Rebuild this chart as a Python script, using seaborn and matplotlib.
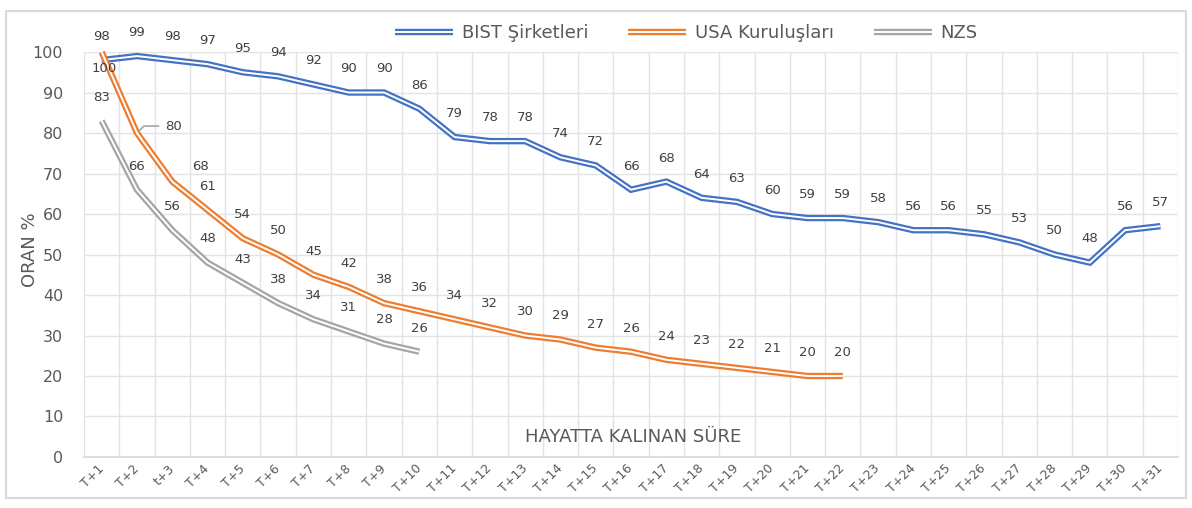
import numpy as np
import pandas as pd
import matplotlib
matplotlib.use("Agg")
import matplotlib.pyplot as plt
import matplotlib.patheffects as pe
from matplotlib.lines import Line2D
from matplotlib.patches import Rectangle
import seaborn as sns

# ---------------- data ----------------
categories = ["T+1", "T+2", "t+3", "T+4", "T+5", "T+6", "T+7", "T+8", "T+9", "T+10",
              "T+11", "T+12", "T+13", "T+14", "T+15", "T+16", "T+17", "T+18", "T+19", "T+20",
              "T+21", "T+22", "T+23", "T+24", "T+25", "T+26", "T+27", "T+28", "T+29", "T+30", "T+31"]
bist = [98, 99, 98, 97, 95, 94, 92, 90, 90, 86, 79, 78, 78, 74, 72, 66, 68, 64, 63, 60,
        59, 59, 58, 56, 56, 55, 53, 50, 48, 56, 57]
usa = [100, 80, 68, 61, 54, 50, 45, 42, 38, 36, 34, 32, 30, 29, 27, 26, 24, 23, 22, 21, 20, 20]
nzs = [83, 66, 56, 48, 43, 38, 34, 31, 28, 26]
series_names = ["BIST Şirketleri", "USA Kuruluşları", "NZS"]
series_colors = ["#4472C4", "#ED7D31", "#A5A5A5"]

# ---------------- style ----------------
sns.set_theme(style="white")
plt.rcParams["font.family"] = ["DejaVu Sans"]

fig = plt.figure(figsize=(11.92, 5.08), dpi=100)
ax = fig.add_axes([0.0705, 0.1004, 0.9178, 0.7972])

def double_line(color):
    return [pe.Stroke(linewidth=4.6, foreground=color, capstyle="butt"), pe.Normal()]

all_series = [bist, usa, nzs]
for vals, name, col in zip(all_series, series_names, series_colors):
    df = pd.DataFrame({"x": np.arange(len(vals)), "y": vals})
    sns.lineplot(data=df, x="x", y="y", ax=ax, color="white", linewidth=1.4,
                 path_effects=double_line(col), clip_on=False, legend=False,
                 solid_joinstyle="miter", solid_capstyle="butt")

# ---------------- data labels ----------------
label_color = "#404040"
default_off = (0, 17)
special = {
    ("USA Kuruluşları", 0): (2, -12),
    ("USA Kuruluşları", 2): (20, 11),
}
for vals, name in zip(all_series, series_names):
    for i, v in enumerate(vals):
        if (name, i) == ("USA Kuruluşları", 1):
            ax.annotate(str(v), xy=(i, v), xytext=(26, 5), textcoords="offset points",
                        ha="center", va="center", fontsize=9.5, color=label_color,
                        arrowprops=dict(arrowstyle="-", color="#A6A6A6", lw=1.2,
                                        shrinkA=2, shrinkB=2,
                                        connectionstyle="angle,angleA=0,angleB=45,rad=0"),
                        annotation_clip=False)
            continue
        off = special.get((name, i), default_off)
        ax.annotate(str(v), xy=(i, v), xytext=off, textcoords="offset points",
                    ha="center", va="center", fontsize=9.5, color=label_color,
                    annotation_clip=False)

# ---------------- axes ----------------
ax.set_xlim(-0.5, len(categories) - 0.5)
ax.set_ylim(0, 100)
ax.set_yticks(range(0, 101, 10))
ax.set_xticks(np.arange(len(categories)))
ax.set_xticklabels(categories, rotation=45, ha="right", va="center",
                   rotation_mode="anchor", fontsize=9, color="#595959")
ax.set_xticks(np.arange(-0.5, len(categories), 1), minor=True)
ax.tick_params(axis="y", labelsize=11.5, labelcolor="#595959", pad=15, length=0)
ax.tick_params(axis="x", which="both", length=0, pad=7)
ax.yaxis.grid(True, color="#E3E3E3", lw=1)
ax.xaxis.grid(True, which="minor", color="#E3E3E3", lw=1)
ax.xaxis.grid(False, which="major")
ax.set_axisbelow(True)
for s in ["top", "right", "left"]:
    ax.spines[s].set_visible(False)
ax.spines["bottom"].set_color("#D9D9D9")
ax.set_xlabel("")
ax.set_ylabel("")

ax.text(0.502, 0.049, "HAYATTA KALINAN SÜRE", transform=ax.transAxes,
        ha="center", va="center", fontsize=13, color="#595959")
fig.text(30 / 1192, (508 - 250) / 508, "ORAN %", rotation=90, ha="center",
         va="center", fontsize=13, color="#595959")

# ---------------- legend ----------------
handles = [Line2D([0], [0], color="white", lw=1.4, solid_capstyle="butt",
                  path_effects=double_line(c)) for c in series_colors]
fig.legend(handles, series_names, loc="center", bbox_to_anchor=(0.576, 0.935),
           ncol=3, frameon=False, fontsize=13, handlelength=3.2, columnspacing=2.2,
           handletextpad=0.5, labelcolor="#595959")

# chart border
fig.patches.append(Rectangle((6 / 1192, 10 / 508), 1180 / 1192, 487 / 508,
                             transform=fig.transFigure, fill=False,
                             edgecolor="#D9D9D9", lw=1.5))

fig.savefig("out.png", dpi=100)
